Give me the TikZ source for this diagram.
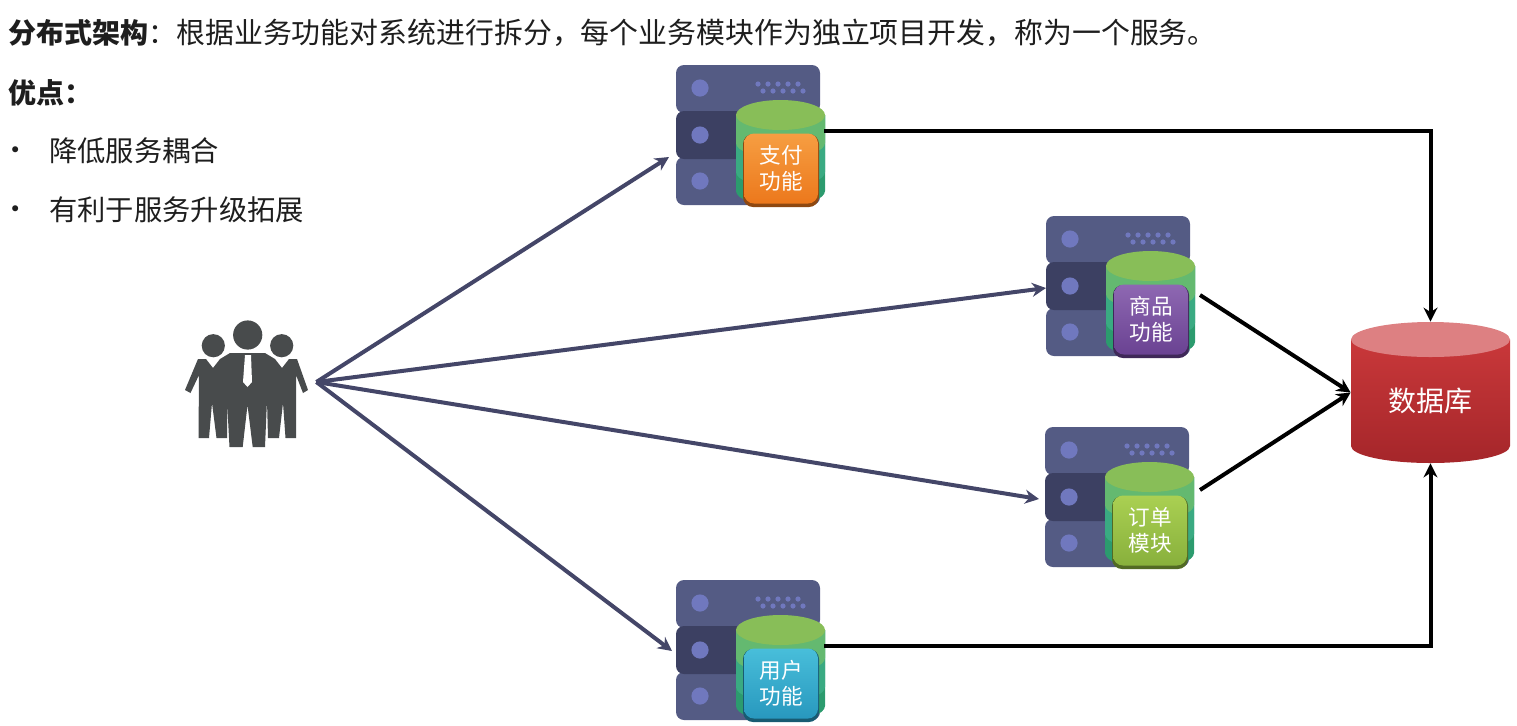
\documentclass[tikz,border=0pt]{standalone}
\usepackage{fontspec}
\setmainfont{Noto Sans CJK SC}
\usetikzlibrary{arrows.meta,positioning,calc}
\definecolor{inktext}{RGB}{30,30,30}
\definecolor{rowlight}{RGB}{84,91,132}
\definecolor{rowdark}{RGB}{60,64,98}
\definecolor{rowdot}{RGB}{112,120,190}
\definecolor{canlid}{RGB}{136,190,88}
\definecolor{canhigh}{RGB}{100,185,112}
\definecolor{canmid}{RGB}{58,170,130}
\definecolor{canlow}{RGB}{44,155,110}
\definecolor{userdark}{RGB}{72,75,76}
\definecolor{callcolor}{RGB}{68,70,104}
\definecolor{dbtop}{RGB}{201,56,58}
\definecolor{dbbottom}{RGB}{165,38,42}
\definecolor{dblid}{RGB}{221,128,130}
\definecolor{paytop}{RGB}{246,158,66}
\definecolor{paylow}{RGB}{236,120,28}
\definecolor{goodstop}{RGB}{142,104,178}
\definecolor{goodslow}{RGB}{106,66,146}
\definecolor{ordertop}{RGB}{170,208,82}
\definecolor{orderlow}{RGB}{136,176,60}
\definecolor{usertop}{RGB}{72,190,218}
\definecolor{userlow}{RGB}{40,152,190}
\tikzset{
  bodytext/.style={text=inktext, font=\fontsize{14.15}{17}\selectfont, anchor=west, inner sep=0pt},
  modulebox/.style={rounded corners=5pt, minimum width=37pt, minimum height=35pt, inner sep=0pt,
    align=center, text=white, font=\fontsize{10.8}{13}\selectfont},
  callarrow/.style={callcolor, line width=2pt, -{Stealth[length=7pt,width=7pt]}},
  dataarrow/.style={black, line width=2pt, -{Stealth[length=7pt,width=7pt]}}
}
% one server stack: name, x, y, label, light colour, dark colour
\newcommand{\serverstack}[6]{
  \begin{scope}[shift={(#2,#3)}]
    \fill[rowlight, rounded corners=4pt] (0,0) rectangle (144,48);
    \fill[rowlight, rounded corners=4pt] (0,92) rectangle (144,140);
    \fill[rowdark, rounded corners=4pt] (0,46) rectangle (144,94);
    \foreach \yy in {23,70,116} {
      \fill[rowdot] (24,\yy) circle (4.3pt);
    }
    \foreach \xx in {82,92,102,112,122} {
      \fill[rowdot] (\xx,19) circle (1.3pt);
      \fill[rowdot] (\xx+5,26) circle (1.3pt);
    }
    % cylinder bands, painted from the bottom up
    \foreach \yy/\cc in {126/canlow,107/canmid,78/canhigh} {
      \fill[\cc] (60,50) -- (60,\yy) arc[start angle=180, end angle=360, x radius=22.25pt, y radius=7.5pt] -- (149,50) -- cycle;
    }
    \fill[canlid] (104.5,50) ellipse [x radius=22.25pt, y radius=7.5pt];
    % module label
    \fill[#6!60!black, rounded corners=5pt] (67,69) rectangle (143,142);
    \node[modulebox, top color=#5, bottom color=#6] (#1) at (105,103.5) {#4};
  \end{scope}
}
\begin{document}
\begin{tikzpicture}[x=0.5pt, y=-0.5pt]
  \useasboundingbox (0,0) rectangle (1517,725);
  % Text block
  \node[bodytext] (titleline) at (8,33) {\fontsize{14}{17}\selectfont\textbf{分布式架构}：\fontsize{14.45}{17}\selectfont 根据业务功能对系统进行拆分，每个业务模块作为独立项目开发，称为一个服务。};
  \node[bodytext] (advhead) at (8,93) {\fontsize{14}{17}\selectfont\textbf{优点：}};
  \node[bodytext] (dotone) at (1,154) {•};
  \node[bodytext] (advone) at (49,151) {降低服务耦合};
  \node[bodytext] (dottwo) at (1,213) {•};
  \node[bodytext] (advtwo) at (49,210) {有利于服务升级拓展};
  % Users
  \fill[userdark] (213.3,345.7) circle (5.8pt);
  \fill[userdark] (281.7,345.7) circle (5.8pt);
  \fill[userdark] (247.7,335) circle (7.3pt);
  \fill[userdark] (198,359) -- (206,359) -- (213,368) -- (220,359) -- (230,353) -- (265,353) -- (275,359)
    -- (282,368) -- (289,359) -- (297,359) -- (308,390) -- (303,393) -- (296,375) -- (296,438) -- (285.5,438)
    -- (283,403) -- (279,438) -- (268,438) -- (267,400) -- (265,447) -- (252.7,447) -- (247.5,405) -- (242.7,447)
    -- (229.5,447) -- (227,400) -- (227,438) -- (216.5,438) -- (212,403) -- (209,438) -- (198.5,438) -- (199,375)
    -- (190.5,393) -- (185,390) -- cycle;
  \fill[white] (245,355) -- (251,355) -- (252,382) -- (247.5,387) -- (243,382) -- cycle;
  \node[minimum width=69pt, minimum height=62pt, inner sep=0pt] (users) at (247,382) {};
  % Servers
  \serverstack{paymod}{676}{65}{支付\\功能}{paytop}{paylow}
  \serverstack{goodsmod}{1046}{216}{商品\\功能}{goodstop}{goodslow}
  \serverstack{ordermod}{1045}{427}{订单\\模块}{ordertop}{orderlow}
  \serverstack{usermod}{676}{580}{用户\\功能}{usertop}{userlow}
  % Database
  \shade[top color=dbtop, bottom color=dbbottom] (1351,339.5) -- (1351,446) arc[start angle=180, end angle=360, x radius=39.75pt, y radius=8.5pt] -- (1510,339.5) -- cycle;
  \fill[dblid] (1430.5,339.5) ellipse [x radius=39.75pt, y radius=8.75pt];
  \node[minimum width=79.5pt, minimum height=70.5pt, inner sep=0pt] (dbbox) at (1430.5,392.5) {};
  \node[text=white, font=\fontsize{14}{17}\selectfont, inner sep=0pt] (dblabel) at (1430,401) {数据库};
  % Arrow ends
  \coordinate (payin) at (669,157);
  \coordinate (goodsin) at (1046,288);
  \coordinate (orderin) at (1039,499);
  \coordinate (userin) at (672,651);
  \coordinate (payout) at (824,131);
  \coordinate (goodsout) at (1200,295);
  \coordinate (orderout) at (1200,490);
  \coordinate (userout) at (824,646);
  % Calls from users
  \draw[callarrow] (users.east) -- (payin);
  \draw[callarrow] (users.east) -- (goodsin);
  \draw[callarrow] (users.east) -- (orderin);
  \draw[callarrow] (users.east) -- (userin);
  % Data access
  \draw[dataarrow] (payout) -| (dbbox.north);
  \draw[dataarrow] (goodsout) -- (dbbox.west);
  \draw[dataarrow] (orderout) -- (dbbox.west);
  \draw[dataarrow] (userout) -| (dbbox.south);
\end{tikzpicture}
\end{document}
